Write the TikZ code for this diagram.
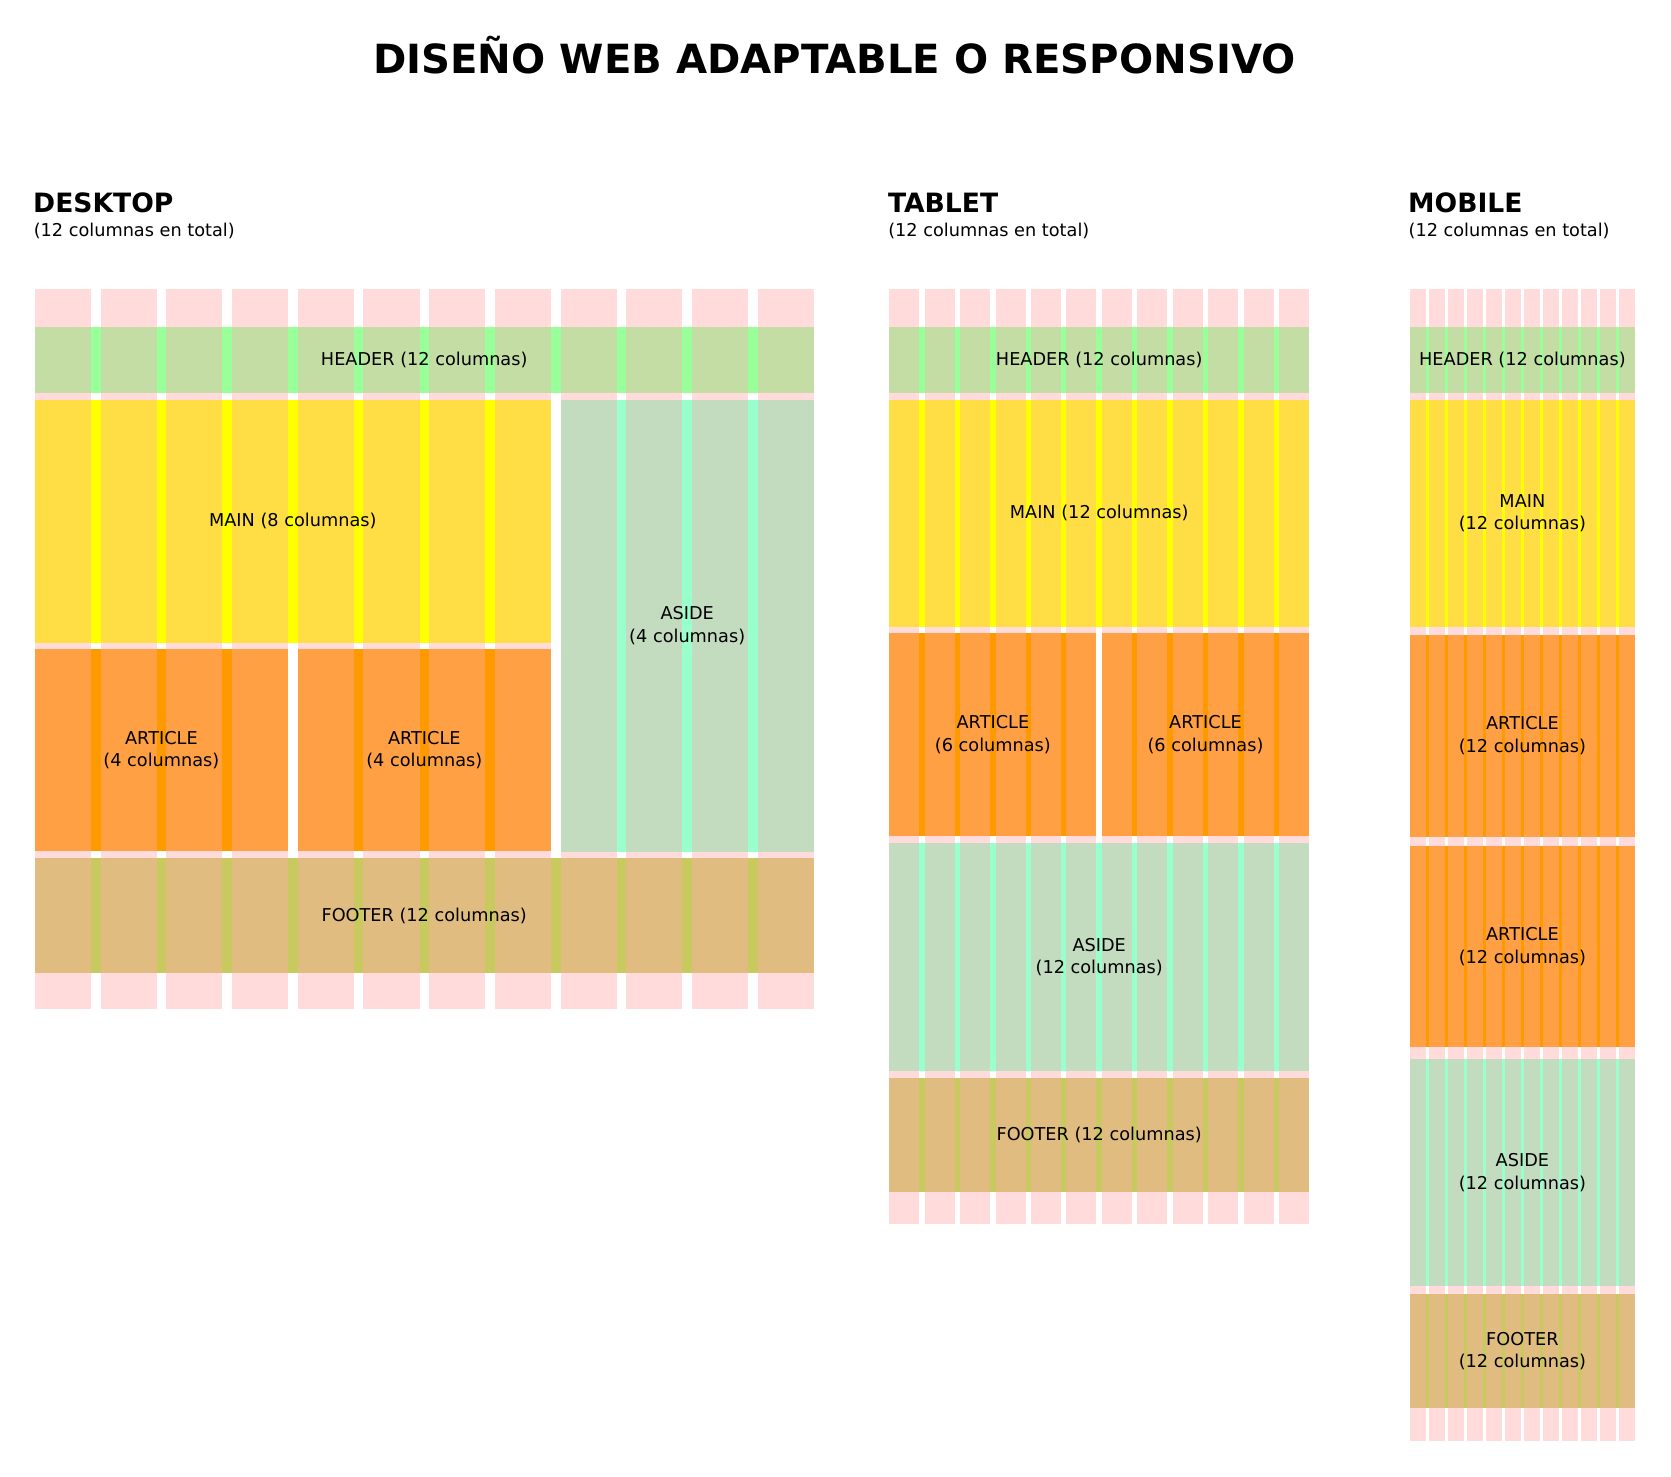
\documentclass[tikz,border=0pt]{standalone}
\usepackage{fontspec}
\setmainfont{DejaVu Sans}
\definecolor{pinkcol}{RGB}{255,219,219}
\definecolor{hdrcol}{RGB}{195,221,164}
\definecolor{hdrgut}{RGB}{153,255,153}
\definecolor{maincol}{RGB}{255,221,68}
\definecolor{maingut}{RGB}{255,255,0}
\definecolor{artcol}{RGB}{255,160,68}
\definecolor{artgut}{RGB}{255,153,0}
\definecolor{asidecol}{RGB}{195,220,192}
\definecolor{asidegut}{RGB}{153,255,204}
\definecolor{footcol}{RGB}{224,188,128}
\definecolor{footgut}{RGB}{200,202,96}
\newcommand{\gridcols}[5]{%
  \foreach \i in {0,...,11}{%
    \fill[pinkcol] ({#1+\i*#2},#4) rectangle ({#1+\i*#2+#3},#5);
  }}
\newcommand{\layblock}[9]{%
  \fill[#9] ({#1+#4*#2},#6) rectangle ({#1+#5*#2+#3},#7);
  \foreach \i in {#4,...,#5}{%
    \fill[#8] ({#1+\i*#2},#6) rectangle ({#1+\i*#2+#3},#7);
  }}
\begin{document}
\begin{tikzpicture}[x=1pt,y=-1pt,
  lbl/.style={inner sep=0pt,align=center,font=\fontsize{17.7}{22.7}\selectfont},
  heading/.style={inner sep=0pt,anchor=base west,font=\fontsize{26.6}{31}\selectfont\bfseries},
  subhead/.style={inner sep=0pt,anchor=base west,font=\fontsize{17.7}{22}\selectfont}]
\useasboundingbox[fill=white] (0,0) rectangle (1671,1477);
% title
\node[inner sep=0pt,anchor=base,font=\fontsize{40.2}{48}\selectfont\bfseries] (title) at (834.5,73.5) {DISEÑO WEB ADAPTABLE O RESPONSIVO};
% ---------------- DESKTOP ----------------
\def\deskx{34.8}\def\deskp{65.72}\def\deskw{56.2}
\node[heading] (dh) at (\deskx-1.8,212.5) {DESKTOP};
\node[subhead] (ds) at (\deskx-1.2,236) {(12 columnas en total)};
\gridcols{\deskx}{\deskp}{\deskw}{289}{1008.7}
\layblock{\deskx}{\deskp}{\deskw}{0}{11}{326.5}{393}{hdrcol}{hdrgut}
\layblock{\deskx}{\deskp}{\deskw}{0}{7}{399.5}{643.3}{maincol}{maingut}
\layblock{\deskx}{\deskp}{\deskw}{0}{3}{649.3}{851}{artcol}{artgut}
\layblock{\deskx}{\deskp}{\deskw}{4}{7}{649.3}{851}{artcol}{artgut}
\layblock{\deskx}{\deskp}{\deskw}{8}{11}{399.5}{851.5}{asidecol}{asidegut}
\layblock{\deskx}{\deskp}{\deskw}{0}{11}{858.3}{972.7}{footcol}{footgut}
\node[lbl] (dhl) at (424.2,359.7) {HEADER (12 columnas)};
\node[lbl] (dml) at (292.8,521.4) {MAIN (8 columnas)};
\node[lbl] (da1) at (161.4,750.2) {ARTICLE\\(4 columnas)};
\node[lbl] (da2) at (424.3,750.2) {ARTICLE\\(4 columnas)};
\node[lbl] (dal) at (687.2,625.5) {ASIDE\\(4 columnas)};
\node[lbl] (dfl) at (424.2,915.5) {FOOTER (12 columnas)};
% ---------------- TABLET ----------------
\def\tabx{889.3}\def\tabp{35.43}\def\tabw{30.0}
\node[heading] (th) at (\tabx-1.5,212.5) {TABLET};
\node[subhead] (ts) at (\tabx-1.2,236) {(12 columnas en total)};
\gridcols{\tabx}{\tabp}{\tabw}{289}{1224}
\layblock{\tabx}{\tabp}{\tabw}{0}{11}{326.5}{393}{hdrcol}{hdrgut}
\layblock{\tabx}{\tabp}{\tabw}{0}{11}{399.5}{626.7}{maincol}{maingut}
\layblock{\tabx}{\tabp}{\tabw}{0}{5}{633.3}{836}{artcol}{artgut}
\layblock{\tabx}{\tabp}{\tabw}{6}{11}{633.3}{836}{artcol}{artgut}
\layblock{\tabx}{\tabp}{\tabw}{0}{11}{843.3}{1071}{asidecol}{asidegut}
\layblock{\tabx}{\tabp}{\tabw}{0}{11}{1077.7}{1192}{footcol}{footgut}
\node[lbl] (thl) at (1099.2,359.7) {HEADER (12 columnas)};
\node[lbl] (tml) at (1099.2,513.1) {MAIN (12 columnas)};
\node[lbl] (ta1) at (992.9,734.6) {ARTICLE\\(6 columnas)};
\node[lbl] (ta2) at (1205.5,734.6) {ARTICLE\\(6 columnas)};
\node[lbl] (tal) at (1099.2,957.1) {ASIDE\\(12 columnas)};
\node[lbl] (tfl) at (1099.2,1134.8) {FOOTER (12 columnas)};
% ---------------- MOBILE ----------------
\def\mobx{1410}\def\mobp{19.0}\def\mobw{15.7}
\node[heading] (mh) at (\mobx-2,212.5) {MOBILE};
\node[subhead] (ms) at (\mobx-1.6,236) {(12 columnas en total)};
\gridcols{\mobx}{\mobp}{\mobw}{289}{1441.3}
\layblock{\mobx}{\mobp}{\mobw}{0}{11}{326.5}{393}{hdrcol}{hdrgut}
\layblock{\mobx}{\mobp}{\mobw}{0}{11}{399.5}{626.7}{maincol}{maingut}
\layblock{\mobx}{\mobp}{\mobw}{0}{11}{634.7}{836.7}{artcol}{artgut}
\layblock{\mobx}{\mobp}{\mobw}{0}{11}{845.7}{1047.3}{artcol}{artgut}
\layblock{\mobx}{\mobp}{\mobw}{0}{11}{1058.7}{1286}{asidecol}{asidegut}
\layblock{\mobx}{\mobp}{\mobw}{0}{11}{1294}{1408}{footcol}{footgut}
\node[lbl] (mhl) at (1522.4,359.7) {HEADER (12 columnas)};
\node[lbl] (mml) at (1522.4,513.1) {MAIN\\(12 columnas)};
\node[lbl] (ma1) at (1522.4,735.7) {ARTICLE\\(12 columnas)};
\node[lbl] (ma2) at (1522.4,946.5) {ARTICLE\\(12 columnas)};
\node[lbl] (mal) at (1522.4,1172.4) {ASIDE\\(12 columnas)};
\node[lbl] (mfl) at (1522.4,1351) {FOOTER\\(12 columnas)};
\end{tikzpicture}
\end{document}
